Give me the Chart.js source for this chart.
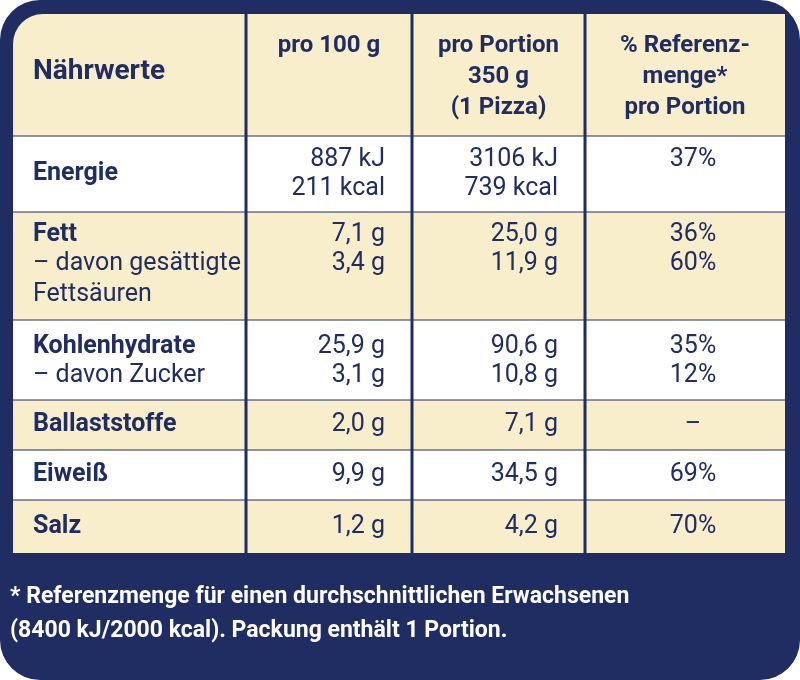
<!DOCTYPE html>
<html><head><meta charset="utf-8">
<script src="https://cdn.jsdelivr.net/npm/chart.js@4"></script>
<style>html,body{margin:0;padding:0;background:#fff}canvas{display:block}</style>
</head><body>
<div style="width:800px;height:680px"><canvas id="c"></canvas></div>
<script>
const columns = ["Nährwerte", "pro 100 g", "pro Portion\n350 g\n(1 Pizza)", "% Referenz-\nmenge*\npro Portion"];
const rows = ["Energie", "Fett", "Kohlenhydrate", "Ballaststoffe", "Eiweiß", "Salz"];
const subLabels = [[], ["– davon gesättigte", "Fettsäuren"], ["– davon Zucker"], [], [], []];
const per100 = [["887 kJ", "211 kcal"], ["7,1 g", "3,4 g"], ["25,9 g", "3,1 g"], ["2,0 g"], ["9,9 g"], ["1,2 g"]];
const perPortion = [["3106 kJ", "739 kcal"], ["25,0 g", "11,9 g"], ["90,6 g", "10,8 g"], ["7,1 g"], ["34,5 g"], ["4,2 g"]];
const refPct = [["37%"], ["36%", "60%"], ["35%", "12%"], ["–"], ["69%"], ["70%"]];
const footnote = ["* Referenzmenge für einen durchschnittlichen Erwachsenen", "(8400 kJ/2000 kcal). Packung enthält 1 Portion."];
// layout grid (table units)
const colEdges = [0, 233, 399, 572, 772];
const rowEdges = [0, 122, 198, 306, 386, 436, 486, 539];
const rowFill = ["#f9eecb", "#ffffff", "#f9eecb", "#ffffff", "#f9eecb", "#ffffff", "#f9eecb"];
const NAVY = "#1f2d62";

const tablePlugin = {
  id: 'table',
  beforeDraw(chart) {
    const {ctx, scales: {x, y}} = chart;
    ctx.save();
    ctx.fillStyle = NAVY;
    ctx.beginPath(); ctx.roundRect(0, 0, chart.width, chart.height, 40); ctx.fill();
    const L = x.getPixelForValue(colEdges[0]), R = x.getPixelForValue(colEdges[4]);
    const T = y.getPixelForValue(rowEdges[0]), B = y.getPixelForValue(rowEdges[7]);
    ctx.beginPath(); ctx.roundRect(L, T, R - L, B - T, [30, 0, 0, 0]); ctx.clip();
    for (let i = 0; i < 7; i++) {
      const y0 = y.getPixelForValue(rowEdges[i]), y1 = y.getPixelForValue(rowEdges[i + 1]);
      ctx.fillStyle = rowFill[i]; ctx.fillRect(L, y0, R - L, y1 - y0);
    }
    ctx.strokeStyle = NAVY; ctx.lineWidth = 1;
    for (let i = 1; i < 7; i++) {
      const yy = y.getPixelForValue(rowEdges[i]);
      ctx.beginPath(); ctx.moveTo(L, yy); ctx.lineTo(R, yy); ctx.stroke();
    }
    ctx.lineWidth = 3;
    for (let j = 1; j < 4; j++) {
      const xx = x.getPixelForValue(colEdges[j]);
      ctx.beginPath(); ctx.moveTo(xx, T); ctx.lineTo(xx, B); ctx.stroke();
    }
    ctx.restore();
  },
  afterDraw(chart) {
    const {ctx, scales: {x, y}} = chart;
    ctx.save();
    ctx.fillStyle = NAVY; ctx.textBaseline = 'middle';
    const bold = '700 25px Roboto', reg = '400 25px Roboto', hb = '700 24px Roboto';
    ctx.font = '700 28px Roboto'; ctx.textAlign = 'left';
    ctx.fillText(columns[0], x.getPixelForValue(20), y.getPixelForValue(58));
    ctx.font = hb; ctx.textAlign = 'center';
    for (let j = 1; j < 4; j++) {
      const cx = (x.getPixelForValue(colEdges[j]) + x.getPixelForValue(colEdges[j + 1])) / 2;
      columns[j].split("\n").forEach((t, k) => ctx.fillText(t, cx, y.getPixelForValue(32 + k * 31)));
    }
    const lh = 29;
    rows.forEach((r, i) => {
      const rTop = rowEdges[i + 1], rBot = rowEdges[i + 2];
      const center = (rTop + rBot) / 2;
      const nLines = Math.max(1 + subLabels[i].length, per100[i].length);
      let top = nLines === 1 ? center : rTop + 23;
      if (i === 2) top = rTop + 27;
      const labelY = i === 0 ? center : top;
      ctx.textAlign = 'left'; ctx.font = bold;
      ctx.fillText(r, x.getPixelForValue(20), y.getPixelForValue(labelY));
      ctx.font = reg;
      subLabels[i].forEach((s, k) => ctx.fillText(s, x.getPixelForValue(20), y.getPixelForValue(top + (k + 1) * (k === 1 ? 30 : 29))));
      const valTop = i === 0 ? center - 14 : top;
      ctx.textAlign = 'right';
      per100[i].forEach((v, k) => ctx.fillText(v, x.getPixelForValue(372), y.getPixelForValue(valTop + k * lh)));
      perPortion[i].forEach((v, k) => ctx.fillText(v, x.getPixelForValue(545), y.getPixelForValue(valTop + k * lh)));
      ctx.textAlign = 'center';
      refPct[i].forEach((v, k) => ctx.fillText(v, x.getPixelForValue(680), y.getPixelForValue(valTop + k * lh)));
    });
    ctx.fillStyle = '#ffffff'; ctx.textAlign = 'left'; ctx.font = '700 23px Roboto';
    footnote.forEach((t, k) => ctx.fillText(t, 10, y.getPixelForValue(583 + k * 34)));
    ctx.restore();
  }
};

new Chart(document.getElementById('c'), {
  type: 'scatter',
  data: { datasets: [{ data: [], pointRadius: 0 }] },
  options: {
    responsive: true, maintainAspectRatio: false, animation: false,
    layout: { padding: { left: 13, right: 15, top: 14, bottom: 127 } },
    plugins: { legend: { display: false }, tooltip: { enabled: false } },
    scales: {
      x: { type: 'linear', min: colEdges[0], max: colEdges[4], display: false },
      y: { type: 'linear', min: rowEdges[0], max: rowEdges[7], reverse: true, display: false }
    }
  },
  plugins: [tablePlugin]
});
</script>
</body></html>
